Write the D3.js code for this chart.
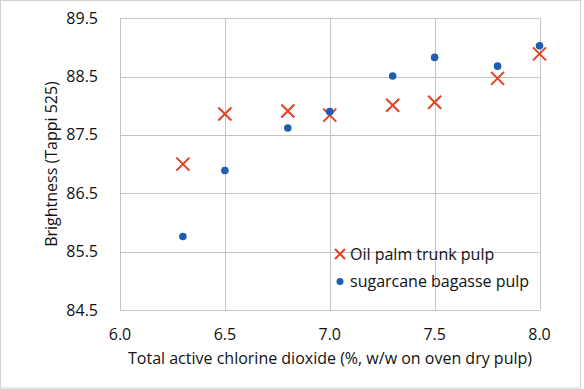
<!DOCTYPE html>
<html>
<head>
<meta charset="utf-8">
<script src="https://cdn.jsdelivr.net/npm/d3@7"></script>
<style>
  body { margin: 0; background: #fff; }
  text { font-family: "Open Sans", "Liberation Sans", sans-serif; fill: #111; }
</style>
</head>
<body>
<div id="chart"></div>
<script>
// chlorine dioxide charge (%)
var dose = [6.3, 6.5, 6.8, 7.0, 7.3, 7.5, 7.8, 8.0];
var oilPalm = [87.0, 87.86, 87.91, 87.84, 88.01, 88.06, 88.47, 88.89];
var bagasse = [85.76, 86.89, 87.62, 87.90, 88.51, 88.83, 88.68, 89.03];
var xTicks = [6.0, 6.5, 7.0, 7.5, 8.0];
var yTicks = [84.5, 85.5, 86.5, 87.5, 88.5, 89.5];

(function () {
    var w = 584, h = 389;
    var left = 120, right = 539.5, top = 18.3, bottom = 310;
    var red = "#e2421f", blue = "#1f5db0", grid = "#c4c4c4";
    var fs = "16px";

    var svg = d3.select("#chart").append("svg")
        .attr("width", w).attr("height", h);

    svg.append("rect")
        .attr("x", 0.5).attr("y", 0.5)
        .attr("width", 580).attr("height", 387.5)
        .attr("fill", "#fff").attr("stroke", "#d0d0d0");

    var x = d3.scaleLinear().domain([6.0, 8.0]).range([left, right]);
    var y = d3.scaleLinear().domain([84.5, 89.5]).range([bottom, top]);

    // gridlines
    svg.selectAll(".vgrid").data(xTicks).enter().append("line")
        .attr("x1", function (d) { return Math.round(x(d)) + 0.5; })
        .attr("x2", function (d) { return Math.round(x(d)) + 0.5; })
        .attr("y1", top).attr("y2", bottom)
        .attr("stroke", grid);
    svg.selectAll(".hgrid").data(yTicks).enter().append("line")
        .attr("y1", function (d) { return Math.round(y(d)) + 0.5; })
        .attr("y2", function (d) { return Math.round(y(d)) + 0.5; })
        .attr("x1", left).attr("x2", right)
        .attr("stroke", grid);

    // tick labels
    svg.selectAll(".xlab").data(xTicks).enter().append("text")
        .attr("x", function (d) { return x(d); })
        .attr("y", 340)
        .attr("text-anchor", "middle")
        .style("font-size", fs)
        .text(function (d) { return d3.format(".1f")(d); });
    svg.selectAll(".ylab").data(yTicks).enter().append("text")
        .attr("x", 98)
        .attr("y", function (d) { return y(d) + 5.5; })
        .attr("text-anchor", "end")
        .style("font-size", fs)
        .text(function (d) { return d3.format(".1f")(d); });

    // axis titles
    svg.append("text")
        .attr("x", 330).attr("y", 364)
        .attr("text-anchor", "middle")
        .style("font-size", fs)
        .text("Total active chlorine dioxide (%, w/w on oven dry pulp)");
    svg.append("text")
        .attr("transform", "translate(57,164) rotate(-90)")
        .attr("text-anchor", "middle")
        .style("font-size", fs)
        .text("Brightness (Tappi 525)");

    function cross(g, cx, cy, s) {
        g.append("path")
            .attr("d", "M" + (cx - s) + "," + (cy - s) + "L" + (cx + s) + "," + (cy + s) +
                "M" + (cx - s) + "," + (cy + s) + "L" + (cx + s) + "," + (cy - s))
            .attr("stroke", red).attr("stroke-width", 2).attr("fill", "none");
    }

    var pts = svg.append("g");
    dose.forEach(function (d, i) {
        cross(pts, x(d), y(oilPalm[i]), 6.5);
    });
    pts.selectAll("circle").data(dose).enter().append("circle")
        .attr("cx", function (d) { return x(d); })
        .attr("cy", function (d, i) { return y(bagasse[i]); })
        .attr("r", 3.8)
        .attr("fill", blue);

    // legend
    var lg = svg.append("g");
    cross(lg, 340, 254, 5);
    lg.append("text").attr("x", 350).attr("y", 260)
        .style("font-size", fs).text("Oil palm trunk pulp");
    lg.append("circle").attr("cx", 340).attr("cy", 281.5).attr("r", 3.5).attr("fill", blue);
    lg.append("text").attr("x", 350).attr("y", 287)
        .style("font-size", fs).text("sugarcane bagasse pulp");
})();
</script>
</body>
</html>
